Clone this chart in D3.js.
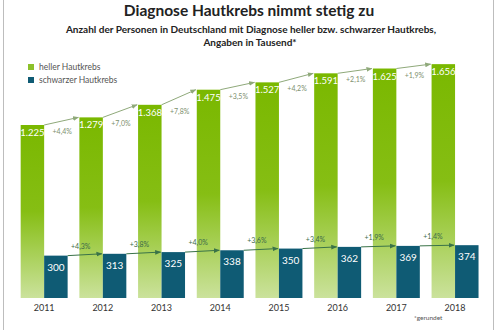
<!DOCTYPE html>
<html><head><meta charset="utf-8">
<script src="https://cdn.jsdelivr.net/npm/d3@7"></script>
<style>body{margin:0;background:#fff}svg{display:block}</style>
</head><body>
<script>
const years = ["2011","2012","2013","2014","2015","2016","2017","2018"];
const heller = [1225,1279,1368,1475,1527,1591,1625,1656];
const schwarzer = [300,313,325,338,350,362,369,374];
const hellerPct = ["+4,4%","+7,0%","+7,8%","+3,5%","+4,2%","+2,1%","+1,9%"];
const schwarzerPct = ["+4,3%","+3,8%","+4,0%","+3,6%","+3,4%","+1,9%","+1,4%"];
const seriesNames = ["heller Hautkrebs","schwarzer Hautkrebs"];
const fmt = v => d3.format(",")(v).replace(/,/g,".");

const W=500,H=330;
const svg=d3.select("body").append("svg").attr("width",W).attr("height",H);
const defs=svg.append("defs");
const g=defs.append("linearGradient").attr("id","gg").attr("x1",0).attr("y1",0).attr("x2",0).attr("y2",1);
g.append("stop").attr("offset","0%").attr("stop-color","#7ab800");
g.append("stop").attr("offset","50%").attr("stop-color","#86be14");
g.append("stop").attr("offset","100%").attr("stop-color","#cbe29c");
function marker(id,col){
  defs.append("marker").attr("id",id).attr("viewBox","0 0 10 10").attr("refX",9).attr("refY",5)
   .attr("markerWidth",6).attr("markerHeight",6).attr("orient","auto")
   .append("path").attr("d","M0,1 L10,5 L0,9 Z").attr("fill",col);
}
const cG="#8fa97a", cD="#3a7348";
marker("mg",cG); marker("md",cD);

// frame
svg.append("line").attr("x1",3.5).attr("x2",3.5).attr("y1",0).attr("y2",H).attr("stroke","#bdbdbd");
svg.append("line").attr("x1",493.5).attr("x2",493.5).attr("y1",0).attr("y2",H).attr("stroke","#bdbdbd");

const font="Lato, 'Open Sans', sans-serif";
svg.append("text").attr("x",249).attr("y",16).attr("text-anchor","middle").attr("font-family",font)
  .attr("font-weight",700).attr("font-size",15.5).attr("fill","#222").text("Diagnose Hautkrebs nimmt stetig zu");
svg.append("text").attr("x",251).attr("y",33).attr("text-anchor","middle").attr("font-family",font)
  .attr("font-weight",700).attr("font-size",10).attr("fill","#222").text("Anzahl der Personen in Deutschland mit Diagnose heller bzw. schwarzer Hautkrebs,");
svg.append("text").attr("x",250).attr("y",46).attr("text-anchor","middle").attr("font-family",font)
  .attr("font-weight",700).attr("font-size",10).attr("fill","#222").text("Angaben in Tausend*");

const x=d3.scaleBand().domain(years).range([14.8,484.4]).paddingInner(0.2).paddingOuter(0.1);
const bw=x.bandwidth();
const x1=d3.scaleBand().domain(seriesNames).range([0,bw]);
const y=d3.scaleLinear().domain([0,1700]).range([298,298-1700*0.14122]);

// legend
const cols=["#7ab800","#0f5b74"];
seriesNames.forEach((s,i)=>{
  svg.append("rect").attr("x",28).attr("y",64+i*13).attr("width",6).attr("height",6).attr("fill",i?cols[1]:"#8cc12a");
  svg.append("text").attr("x",39).attr("y",70+i*13).attr("font-family",font).attr("font-size",8.5)
    .attr("fill","#555").text(s);
});

// bars
svg.selectAll(".bh").data(heller).join("rect")
  .attr("x",(d,i)=>x(years[i])+x1(seriesNames[0])).attr("y",d=>y(d))
  .attr("width",x1.bandwidth()).attr("height",d=>y(0)-y(d)).attr("fill","url(#gg)");
svg.selectAll(".bs").data(schwarzer).join("rect")
  .attr("x",(d,i)=>x(years[i])+x1(seriesNames[1])).attr("y",d=>y(d))
  .attr("width",x1.bandwidth()).attr("height",d=>y(0)-y(d)).attr("fill",cols[1]);

// value labels
heller.forEach((d,i)=>{
  svg.append("text").attr("x",x(years[i])+x1(seriesNames[0])+x1.bandwidth()/2).attr("y",y(d)+11)
   .attr("text-anchor","middle").attr("font-family",font).attr("font-size",9.5).attr("fill","#fff").text(fmt(d));
});
schwarzer.forEach((d,i)=>{
  svg.append("text").attr("x",x(years[i])+x1(seriesNames[1])+x1.bandwidth()/2).attr("y",y(d)+15)
   .attr("text-anchor","middle").attr("font-family",font).attr("font-size",10).attr("fill","#fff").text(fmt(d));
});

// arrows + pct
hellerPct.forEach((p,i)=>{
  const xa=x(years[i])+bw/2, ya=y(heller[i]);
  const xb=x(years[i+1])-1, yb=y(heller[i+1]);
  svg.append("line").attr("x1",xa).attr("y1",ya).attr("x2",xb).attr("y2",yb)
    .attr("stroke",cG).attr("stroke-width",1).attr("marker-end","url(#mg)");
  svg.append("text").attr("x",(xa+xb)/2+1).attr("y",ya+9).attr("text-anchor","middle")
    .attr("font-family",font).attr("font-size",7).attr("fill","#7d8f6e").text(p);
});
schwarzerPct.forEach((p,i)=>{
  const xa=x(years[i])+bw, ya=y(schwarzer[i]);
  const xb=x(years[i+1])+bw/2-1, yb=y(schwarzer[i+1]);
  svg.append("line").attr("x1",xa).attr("y1",ya).attr("x2",xb).attr("y2",yb)
    .attr("stroke",cD).attr("stroke-width",1).attr("marker-end","url(#md)");
  svg.append("text").attr("x",(xa+xb)/2-4).attr("y",ya-7).attr("text-anchor","middle")
    .attr("font-family",font).attr("font-size",7).attr("fill","#3d6b4a").text(p);
});

// x axis labels
years.forEach(yr=>{
  svg.append("text").attr("x",x(yr)+bw/2).attr("y",311).attr("text-anchor","middle")
   .attr("font-family",font).attr("font-size",9).attr("fill","#333").text(yr);
});
svg.append("text").attr("x",414).attr("y",320).attr("font-family",font).attr("font-size",6.5)
  .attr("fill","#555").text("*gerundet");
</script>
</body></html>
